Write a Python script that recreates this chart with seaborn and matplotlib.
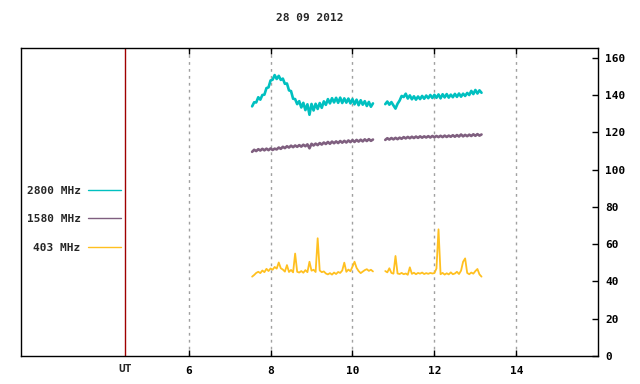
import matplotlib
matplotlib.use("Agg")
import matplotlib.pyplot as plt
import matplotlib.transforms as mtransforms
import numpy as np
import pandas as pd
import seaborn as sns

# sample times (UT hours), two recording blocks with a gap between them
ut_block1 = np.round(np.arange(7.55, 10.501, 0.05), 2)
ut_block2 = np.round(np.arange(10.80, 13.151, 0.05), 2)

bands = ["2800 MHz", "1580 MHz", "403 MHz"]
band_colors = ["#00c0c0", "#7f5f7f", "#ffc020"]
band_widths = [1.9, 1.9, 1.3]

# flux values (sfu)
f2800_block1 = [134.0, 136.2, 136.1, 138.9, 137.6, 140.1, 140.3, 143.8, 144.2, 147.9,
                148.3, 150.8, 148.7, 150.4, 148.2, 148.9, 146.1, 146.3, 142.6, 142.2,
                138.1, 137.9, 135.2, 136.8, 133.4, 135.9, 132.0, 135.1, 129.5, 135.3,
                131.8, 135.4, 132.6, 135.8, 133.2, 136.7, 134.8, 137.9, 135.6, 138.4,
                136.1, 138.6, 135.9, 138.7, 135.8, 138.3, 136.0, 138.2, 135.6, 137.9,
                135.1, 137.6, 134.6, 137.3, 134.9, 136.8, 134.2, 136.4, 133.8, 135.6]
f2800_block2 = [135.2, 136.6, 134.9, 136.3, 134.5, 132.8, 135.4, 137.1, 139.6, 139.0,
                140.8, 138.2, 139.9, 137.8, 139.4, 137.6, 139.3, 137.9, 139.6, 138.1,
                139.8, 138.4, 140.1, 138.5, 140.2, 138.6, 140.4, 138.3, 140.5, 138.8,
                140.6, 138.7, 140.3, 138.9, 140.7, 139.1, 140.9, 139.2, 140.8, 139.6,
                141.2, 140.1, 142.3, 140.6, 142.8, 140.9, 142.6, 141.3]

f1580_block1 = [109.6, 110.7, 110.0, 111.0, 110.3, 111.2, 110.4, 111.3, 110.5, 111.4,
                110.6, 111.3, 110.9, 111.9, 111.2, 112.3, 111.6, 112.6, 111.9, 112.9,
                112.1, 113.0, 112.3, 113.2, 112.4, 113.4, 112.6, 113.6, 111.5, 113.9,
                113.0, 114.0, 113.2, 114.3, 113.5, 114.6, 113.8, 114.9, 113.9, 115.1,
                114.2, 115.2, 114.3, 115.4, 114.5, 115.5, 114.6, 115.7, 114.8, 115.9,
                114.9, 116.0, 115.1, 116.1, 115.2, 116.3, 115.4, 116.4, 115.5, 116.2]
f1580_block2 = [116.0, 116.9, 116.2, 117.0, 116.3, 117.1, 116.4, 117.2, 116.6, 117.5,
                116.8, 117.6, 116.9, 117.7, 117.0, 117.8, 117.1, 117.9, 117.2, 117.9,
                117.3, 118.0, 117.3, 118.1, 117.4, 118.1, 117.5, 118.2, 117.5, 118.3,
                117.6, 118.3, 117.7, 118.5, 117.7, 118.6, 117.8, 118.9, 117.9, 118.7,
                118.0, 118.8, 118.1, 119.0, 118.2, 119.1, 118.3, 118.9]

f403_block1 = [42.6, 43.5, 44.6, 45.2, 44.5, 45.9, 45.0, 46.8, 45.6, 47.0,
               46.3, 47.8, 46.9, 50.2, 47.1, 46.4, 45.3, 48.8, 45.1, 46.2,
               44.9, 55.0, 45.2, 44.8, 45.6, 44.7, 46.1, 45.0, 50.6, 45.8,
               46.3, 45.1, 63.2, 45.9, 45.0, 45.4, 44.3, 43.8, 44.5, 43.7,
               44.8, 44.0, 45.1, 44.6, 45.9, 50.1, 45.2, 46.4, 45.5, 48.0,
               50.6, 47.3, 45.6, 44.5, 45.3, 46.1, 46.6, 45.7, 46.3, 45.4]
f403_block2 = [45.6, 44.9, 47.1, 44.6, 44.2, 53.7, 44.3, 44.0, 44.6, 43.9,
               44.3, 43.6, 47.6, 44.1, 44.7, 43.9, 44.6, 44.2, 44.8, 44.0,
               44.5, 44.1, 44.6, 44.3, 44.5, 47.0, 68.0, 43.9, 44.6, 43.7,
               44.4, 43.8, 44.9, 43.9, 44.3, 45.2, 44.0, 45.8, 50.6, 52.4,
               44.6, 43.9, 44.8, 44.2, 45.6, 46.7, 43.8, 42.6]

series = {
    "2800 MHz": (f2800_block1, f2800_block2),
    "1580 MHz": (f1580_block1, f1580_block2),
    "403 MHz": (f403_block1, f403_block2),
}

frames = []
for band, (b1, b2) in series.items():
    frames.append(pd.DataFrame({"ut": ut_block1, "sfu": b1, "band": band, "seg": "a"}))
    frames.append(pd.DataFrame({"ut": ut_block2, "sfu": b2, "band": band, "seg": "b"}))
df = pd.concat(frames, ignore_index=True)

sns.set_theme(style="white")
plt.rcParams["font.family"] = ["DejaVu Sans Mono"]
plt.rcParams["font.weight"] = "bold"
plt.rcParams["font.size"] = 8

fig = plt.figure(figsize=(6.4, 3.84), dpi=100)
ax = fig.add_axes([0.0323, 0.0729, 0.9025, 0.8034])

sns.lineplot(data=df, x="ut", y="sfu", hue="band", hue_order=bands,
             palette=dict(zip(bands, band_colors)), units="seg",
             estimator=None, sort=False, linewidth=1.3, ax=ax)

# thicker noisy bands for the two upper channels
width_by_color = {matplotlib.colors.to_hex(c): w for c, w in zip(band_colors, band_widths)}
for ln in ax.lines:
    ln.set_linewidth(width_by_color.get(matplotlib.colors.to_hex(ln.get_color()), 1.3))

ax.set_xlim(1.9, 16.0)
ax.set_ylim(0, 165.6)
ax.set_xticks([6, 8, 10, 12, 14])
ax.set_yticks(range(0, 161, 20))
ax.yaxis.tick_right()
ax.set_xlabel("")
ax.set_ylabel("")

ax.tick_params(axis="x", direction="in", top=True, bottom=True, length=4,
               width=1, pad=7, colors="black", labelsize=8)
ax.tick_params(axis="y", direction="in", left=False, right=True, length=4,
               width=1, pad=5, labelleft=False, labelright=True,
               colors="black", labelsize=8)
for s in ax.spines.values():
    s.set_color("black")
    s.set_linewidth(1)

ax.set_axisbelow(True)
ax.grid(axis="x", color="#a0a0a0", linestyle=(0, (2, 3)), linewidth=1)
ax.grid(axis="y", visible=False)

# UT marker line separating the key area
ut_x = 4.45
ax.axvline(ut_x, color="#a00000", linewidth=1)
trans = mtransforms.blended_transform_factory(ax.transData, ax.transAxes)
ax.text(ut_x, -0.025, "UT", transform=trans, ha="center", va="top",
        fontsize=8, fontweight="bold")

handles, labels = ax.get_legend_handles_labels()
leg = ax.legend(handles, labels, loc="center right", bbox_to_anchor=(0.173, 0.443),
                frameon=False, markerfirst=False, handlelength=2.9,
                handletextpad=0.7, labelspacing=1.65, borderaxespad=0, borderpad=0,
                prop={"family": "DejaVu Sans Mono", "weight": "bold", "size": 8})
for h in leg.get_lines():
    h.set_linewidth(1)

fig.text(0.4836, 0.953, "28 09 2012", ha="center", va="center",
         fontsize=8, fontweight="bold")

fig.savefig("out.png", dpi=100)
